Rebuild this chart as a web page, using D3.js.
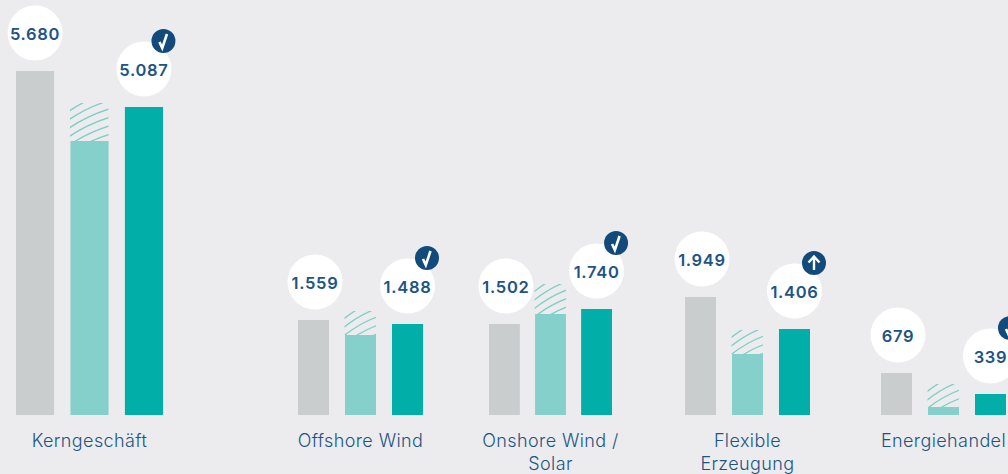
<!DOCTYPE html>
<html><head><meta charset="utf-8">
<script src="https://cdn.jsdelivr.net/npm/d3@7/dist/d3.min.js"></script>
<style>html,body{margin:0;padding:0;background:#ececee;overflow:hidden}svg{display:block}</style>
</head><body><div id="c"></div>
<script>
const categories = [["Kerngeschäft"],["Offshore Wind"],["Onshore Wind /","Solar"],["Flexible","Erzeugung"],["Energiehandel"]];
const actualPrior = [5680,1559,1502,1949,679];
const forecastLow = [4524,1321,1668,1007,132];
const forecastHigh = [5152,1717,2163,1404,512];
const actualCurrent = [5087,1488,1740,1406,339];
const priorLabels = ["5.680","1.559","1.502","1.949","679"];
const currentLabels = ["5.087","1.488","1.740","1.406","339"];
const badges = ["check","check","check","up","check"];

const W=1008,H=474,baseY=415;
const groupRanges=[[16,163],[298,423],[489,612],[685,810],[881,1006]];
const groupPadding=[0.30,0.34,0.33,0.34,0.34];
const navy="#134a7c",textC="#1c5585",gray="#c9cdcd",mint="#85d0ca",teal="#02aea8",hatch="#7dcdc8";

const y0=d3.scaleLinear().domain([0,5680]).range([baseY,71]);
const y=v=>Math.floor(y0(v)+0.1);
const svg=d3.select("#c").append("svg").attr("width",W).attr("height",H);
svg.append("rect").attr("width",W).attr("height",H).attr("fill","#ececee");
const defs=svg.append("defs");

const names=["prior","plan","current"];
categories.forEach((cat,i)=>{
  const x=d3.scaleBand().domain(names).range(groupRanges[i]).paddingInner(groupPadding[i]).paddingOuter(0);
  const g=svg.append("g");
  const bw=x.bandwidth();
  const hx=x("plan"),hy=y(forecastHigh[i]);
  const clipId="clip"+i;
  defs.append("clipPath").attr("id",clipId).append("rect").attr("x",hx-0.5).attr("y",hy).attr("width",bw+0.5).attr("height",y(forecastLow[i])-hy);
  const hg=g.append("g").attr("clip-path",`url(#${clipId})`);
  d3.range(-1,16).forEach(k=>{
    const o=hy+k*8.5;
    hg.append("path").attr("d",`M${hx-2} ${o} Q${hx+bw*0.45} ${o-13} ${hx+bw+2} ${o-20}`).attr("fill","none").attr("stroke",hatch).attr("stroke-width",1.3);
  });
  g.append("rect").attr("x",x("prior")).attr("y",y(actualPrior[i])).attr("width",bw).attr("height",baseY-y(actualPrior[i])).attr("fill",gray);
  g.append("rect").attr("x",x("plan")).attr("y",y(forecastLow[i])).attr("width",bw).attr("height",baseY-y(forecastLow[i])).attr("fill",mint);
  g.append("rect").attr("x",x("current")).attr("y",y(actualCurrent[i])).attr("width",bw).attr("height",baseY-y(actualCurrent[i])).attr("fill",teal);
  const bubble=(cx,cy,t)=>{
    g.append("circle").attr("cx",cx).attr("cy",cy).attr("r",27.5).attr("fill","#fff");
    g.append("text").attr("x",cx).attr("y",cy+6.5).attr("text-anchor","middle").attr("font-family","Inter,sans-serif").attr("font-size",16.5).attr("letter-spacing",0.7).attr("font-weight",600).attr("fill",textC).text(t);
  };
  const dx=i===0?0:1.5;
  const c1=x("prior")+bw/2+dx, c2=x("current")+bw/2;
  bubble(c1,y(actualPrior[i])-38,priorLabels[i]);
  const cy2=y(actualCurrent[i])-38;
  bubble(c2,cy2,currentLabels[i]);
  const bx=c2+19.5,by=cy2-28;
  g.append("circle").attr("cx",bx).attr("cy",by).attr("r",12).attr("fill",navy);
  if(badges[i]==="check"){
    g.append("path").attr("d",`M${bx-4} ${by+1} L${bx-1.2} ${by+7} L${bx+3.5} ${by-7}`).attr("fill","none").attr("stroke","#fff").attr("stroke-width",2.6);
  } else {
    g.append("path").attr("d",`M${bx} ${by+7} V${by-6} M${bx-5.5} ${by-0.5} L${bx} ${by-6.5} L${bx+5.5} ${by-0.5}`).attr("fill","none").attr("stroke","#fff").attr("stroke-width",2.4);
  }
  const lx=(groupRanges[i][0]+groupRanges[i][1])/2;
  cat.forEach((l,k)=>{
    g.append("text").attr("x",lx).attr("y",447+k*23).attr("text-anchor","middle").attr("font-family","Inter,sans-serif").attr("font-size",18).attr("letter-spacing",0.4).attr("font-weight",300).attr("fill",textC).text(l);
  });
});
</script></body></html>
